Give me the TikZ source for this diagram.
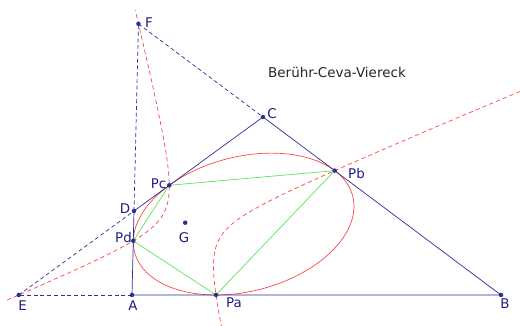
\documentclass[tikz,border=0pt]{standalone}
\usepackage{fontspec}
\setmainfont{DejaVu Sans}
\definecolor{navy}{RGB}{45,45,150}
\definecolor{labelc}{RGB}{30,30,130}
\definecolor{redc}{RGB}{255,70,70}
\definecolor{greenc}{RGB}{90,230,90}
\begin{document}
\begin{tikzpicture}[x=0.025cm,y=-0.025cm,
  navyline/.style={draw=navy, line width=0.5pt},
  dashline/.style={draw=navy, line width=0.5pt, dash pattern=on 2.8pt off 2pt},
  redcurve/.style={draw=redc, line width=0.5pt},
  reddash/.style={draw=redc, line width=0.5pt, dash pattern=on 3pt off 2.2pt},
  greenline/.style={draw=greenc, line width=0.5pt},
  lbl/.style={text=labelc, font=\fontsize{9.5}{11}\selectfont, inner sep=0pt},
  dot/.style={circle, fill=navy, inner sep=0pt, minimum size=3.2pt}]
\useasboundingbox (0,0) rectangle (520,326);
% points
\coordinate (A) at (132,295);
\coordinate (B) at (501,295);
\coordinate (C) at (263,117);
\coordinate (D) at (134,211);
\coordinate (E) at (18.72,295);
\coordinate (F) at (138.46,23.89);
\coordinate (G) at (185.2,222.7);
\coordinate (Pa) at (216,295);
\coordinate (Pb) at (334.69,170.62);
\coordinate (Pc) at (169.25,185.31);
\coordinate (Pd) at (133.29,240.81);
% inscribed ellipse
\draw[redcurve] plot[domain=0:360, samples=145, smooth, variable=\t]
  ({243.634+109.086*cos(\t)+16.703*sin(\t)}, {224.070-27.948*cos(\t)+65.194*sin(\t)});
% hyperbola through E, F, Pa, Pb, Pc, Pd
\draw[reddash] plot[domain=-0.987:3.228, samples=120, smooth, variable=\u]
  ({191.37+exp(\u)+122.37*exp(-\u)}, {226.39+4.0291*exp(\u)-50.873*exp(-\u)});
\draw[reddash] plot[domain=-0.406:3.988, samples=120, smooth, variable=\u]
  ({191.37-exp(\u)-122.37*exp(-\u)}, {226.39-4.0291*exp(\u)+50.873*exp(-\u)});
% quadrilateral
\draw[navyline] (A) -- (B) -- (C) -- (D) -- (A);
% extensions
\draw[dashline] (A) -- (E);
\draw[dashline] (E) -- (D);
\draw[dashline] (D) -- (F);
\draw[dashline] (F) -- (C);
% contact quadrilateral
\draw[greenline] (Pa) -- (Pb) -- (Pc) -- (Pd) -- (Pa);
% dots
\foreach \p in {A,B,C,D,E,F,G,Pa,Pb,Pc,Pd}{\node[dot] (d\p) at (\p) {};}
% labels
\node[lbl] (lA) at (133,305.5) {A};
\node[lbl] (lB) at (505,304) {B};
\node[lbl] (lC) at (272,113.5) {C};
\node[lbl] (lD) at (125,209) {D};
\node[lbl] (lE) at (22.5,305.5) {E};
\node[lbl] (lF) at (149,22.5) {F};
\node[lbl] (lG) at (184,237.5) {G};
\node[lbl] (lPa) at (234,302.5) {Pa};
\node[lbl] (lPb) at (356.5,174) {Pb};
\node[lbl] (lPc) at (158.5,184) {Pc};
\node[lbl] (lPd) at (123.5,238) {Pd};
\node[text=black!85, font=\fontsize{9.6}{11}\selectfont, inner sep=0pt] (title) at (337,72) {Berühr-Ceva-Viereck};
\end{tikzpicture}
\end{document}
